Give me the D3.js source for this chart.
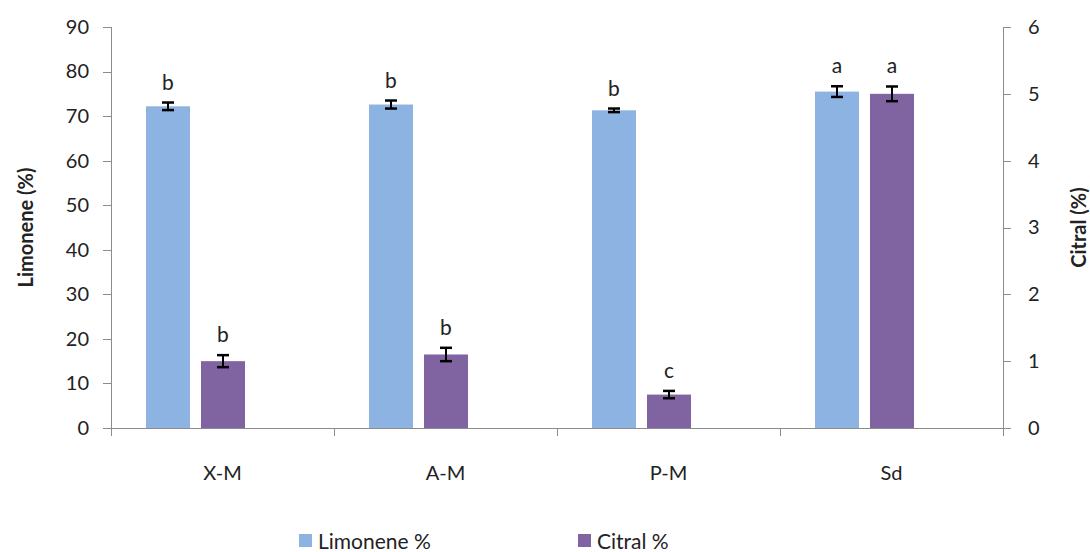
<!DOCTYPE html>
<html lang="en">
<head>
<meta charset="utf-8">
<title>Limonene and Citral</title>
<script src="https://cdnjs.cloudflare.com/ajax/libs/d3/7.8.5/d3.min.js"></script>
<style>
  body { margin: 0; background: #fff; }
  svg text { font-family: Lato, "Open Sans", sans-serif; fill: #222; }
  .axis path, .axis line { stroke: #8c8c8c; shape-rendering: crispEdges; }
  .axis text { font-size: 20px; fill: #222; }
</style>
</head>
<body>
<svg width="1090" height="552"></svg>
<script>
// data
var categories = ["X-M", "A-M", "P-M", "Sd"];
var limonene = [72.2, 72.6, 71.3, 75.5];
var limoneneErr = [0.85, 0.9, 0.4, 1.2];
var limoneneLetters = ["b", "b", "b", "a"];
var citral = [1.0, 1.1, 0.5, 5.0];
var citralErr = [0.09, 0.1, 0.055, 0.11];
var citralLetters = ["b", "b", "c", "a"];
var leftTicks = [0, 10, 20, 30, 40, 50, 60, 70, 80, 90];
var rightTicks = [0, 1, 2, 3, 4, 5, 6];
var seriesNames = ["Limonene %", "Citral %"];
var colors = ["#8db3e2", "#8064a2"];

var svg = d3.select("svg");
var pL = 111, pR = 1003, pT = 27, pB = 428;

var x0 = d3.scaleBand().domain(categories).range([pL, pR]).padding(0);
var x1 = d3.scaleBand().domain(seriesNames).range([35, 134]).paddingInner(0.2);
var yL = d3.scaleLinear().domain([0, 90]).range([pB, pT]);
var yR = d3.scaleLinear().domain([0, 6]).range([pB, pT]);

// axes
svg.append("g").attr("class", "axis")
  .attr("transform", "translate(" + pL + ",0)")
  .call(d3.axisLeft(yL).tickValues(leftTicks).tickSize(8).tickSizeOuter(8).tickPadding(14));

svg.append("g").attr("class", "axis")
  .attr("transform", "translate(" + pR + ",0)")
  .call(d3.axisRight(yR).tickValues(rightTicks).tickFormat(d3.format("d"))
    .tickSize(8).tickSizeOuter(8).tickPadding(17));

var xAxis = svg.append("g").attr("class", "axis")
  .attr("transform", "translate(0," + pB + ")");
xAxis.append("line").attr("x1", pL).attr("x2", pR).attr("y1", 0).attr("y2", 0);
xAxis.selectAll(".tk").data(d3.range(categories.length + 1)).enter().append("line")
  .attr("x1", function(i) { return pL + i * x0.step(); })
  .attr("x2", function(i) { return pL + i * x0.step(); })
  .attr("y1", 0).attr("y2", 8);
xAxis.selectAll(".lbl").data(categories).enter().append("text")
  .attr("x", function(d) { return x0(d) + x0.bandwidth() / 2; })
  .attr("y", 52).attr("text-anchor", "middle")
  .text(function(d) { return d; });

// bars
var rows = categories.map(function(c, i) {
  return [
    { cat: c, s: seriesNames[0], v: limonene[i], e: limoneneErr[i], l: limoneneLetters[i], y: yL, c: colors[0] },
    { cat: c, s: seriesNames[1], v: citral[i], e: citralErr[i], l: citralLetters[i], y: yR, c: colors[1] }
  ];
});
var flat = [].concat.apply([], rows);

var g = svg.append("g");
g.selectAll("rect").data(flat).enter().append("rect")
  .attr("x", function(d) { return x0(d.cat) + x1(d.s); })
  .attr("y", function(d) { return d.y(d.v); })
  .attr("width", x1.bandwidth())
  .attr("height", function(d) { return pB - d.y(d.v); })
  .attr("fill", function(d) { return d.c; });

// error bars
function cx(d) { return x0(d.cat) + x1(d.s) + x1.bandwidth() / 2; }
var eb = g.selectAll(".err").data(flat).enter().append("g");
eb.append("line")
  .attr("x1", cx).attr("x2", cx)
  .attr("y1", function(d) { return d.y(d.v + d.e); })
  .attr("y2", function(d) { return d.y(d.v - d.e); })
  .attr("stroke", "#000").attr("stroke-width", 2);
[1, -1].forEach(function(sgn) {
  eb.append("line")
    .attr("x1", function(d) { return cx(d) - 6; })
    .attr("x2", function(d) { return cx(d) + 6; })
    .attr("y1", function(d) { return d.y(d.v + sgn * d.e); })
    .attr("y2", function(d) { return d.y(d.v + sgn * d.e); })
    .attr("stroke", "#000").attr("stroke-width", 2.5);
});
eb.append("text")
  .attr("x", cx)
  .attr("y", function(d) { return d.y(d.v + d.e) - 13; })
  .attr("text-anchor", "middle").style("font-size", "21px")
  .text(function(d) { return d.l; });

// axis titles
svg.append("text")
  .attr("transform", "translate(33," + ((pT + pB) / 2) + ") rotate(-90)")
  .attr("text-anchor", "middle").style("font-size", "20px").style("font-weight", "bold")
  .text("Limonene (%)");
svg.append("text")
  .attr("transform", "translate(1086," + ((pT + pB) / 2) + ") rotate(-90)")
  .attr("text-anchor", "middle").style("font-size", "20px").style("font-weight", "bold")
  .text("Citral (%)");

// legend
var legX = [299, 578];
var leg = svg.selectAll(".leg").data(seriesNames).enter().append("g")
  .attr("transform", function(d, i) { return "translate(" + legX[i] + ",534)"; });
leg.append("rect").attr("width", 13).attr("height", 13)
  .attr("fill", function(d, i) { return colors[i]; });
leg.append("text").attr("x", 19).attr("y", 15).style("font-size", "21px")
  .text(function(d) { return d; });
</script>
</body>
</html>
